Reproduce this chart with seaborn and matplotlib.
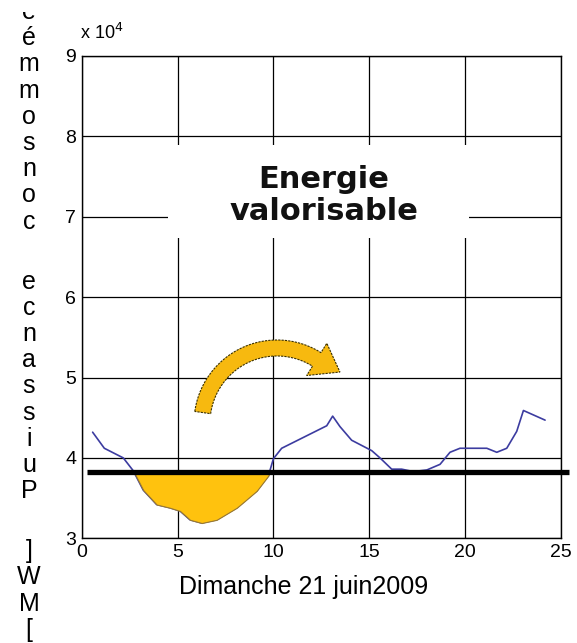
import matplotlib
matplotlib.use("Agg")
import matplotlib.pyplot as plt
import seaborn as sns
import pandas as pd
import numpy as np
from matplotlib.patches import Rectangle, Polygon

# ---- data ----
hours = [0.57, 1.18, 2.17, 2.69, 3.21, 3.91, 4.60, 5.13, 5.65, 6.26, 7.04, 8.09,
         9.13, 9.74, 10.0, 10.43, 12.78, 13.09, 13.47, 14.08, 15.13, 15.56, 16.17,
         16.69, 17.30, 18.00, 18.69, 19.21, 19.73, 21.13, 21.65, 22.17, 22.69,
         23.04, 24.17]
power_mw = [43200, 41200, 40000, 38400, 36000, 34200, 33800, 33400, 32300, 31900,
            32300, 33800, 35900, 37800, 39900, 41200, 44000, 45200, 43900, 42200,
            40900, 40000, 38600, 38600, 38300, 38500, 39200, 40700, 41200, 41200,
            40700, 41200, 43300, 45900, 44700]
threshold_mw = 38200
threshold_span = [0.3, 25.4]
x_ticks = [0, 5, 10, 15, 20, 25]
y_ticks = [30000, 40000, 50000, 60000, 70000, 80000, 90000]
y_tick_labels = ["3", "4", "5", "6", "7", "8", "9"]
x_label = "Dimanche 21 juin2009"
y_label = "[MW] Puissance consommée"
annotation = "Energie\nvalorisable"

df = pd.DataFrame({"heure": hours, "puissance": power_mw})

sns.set_style("white")
plt.rcParams["font.family"] = ["Liberation Sans", "DejaVu Sans"]
plt.rcParams["text.color"] = "black"
plt.rcParams["xtick.color"] = "black"
plt.rcParams["ytick.color"] = "black"

W, H = 577, 643
fig = plt.figure(figsize=(W / 100, H / 100), dpi=100)
ax_l, ax_r, ax_b, ax_t = 81.7, 561.0, 538.3, 56.0
ax = fig.add_axes([ax_l / W, 1 - ax_b / H, (ax_r - ax_l) / W, (ax_b - ax_t) / H])

ax.set_xlim(0, 25)
ax.set_ylim(30000, 90000)
ax.set_xticks(x_ticks)
ax.set_yticks(y_ticks)
ax.set_yticklabels(y_tick_labels)
ax.grid(True, color="black", linewidth=0.9, zorder=0)
ax.set_axisbelow(True)
for s in ax.spines.values():
    s.set_color("black")
    s.set_linewidth(1.0)
ax.tick_params(axis="both", labelsize=14, colors="black", length=3, direction="in", pad=4)

sns.lineplot(data=df, x="heure", y="puissance", ax=ax, color="#3C3CA0",
             linewidth=1.2, zorder=3, legend=False)

# fill of the deficit region (drawn over the line, as in the reference)
x = np.array(hours)
y = np.array(power_mw)
ax.fill_between(x, y, threshold_mw, where=y < threshold_mw, interpolate=True,
                facecolor="#FFC20E", edgecolor="#9a7a30", linewidth=0.8, zorder=3.5)

ax.plot(threshold_span, [threshold_mw, threshold_mw], color="black", linewidth=3.8,
        solid_capstyle="butt", clip_on=False, zorder=4)

ax.set_xlabel("")
ax.set_ylabel("")

# white box behind annotation
ax.add_patch(Rectangle((4.5, 67400), 15.7, 11500, facecolor="white",
                       edgecolor="none", zorder=1.5))
ax.text(12.64, 72600, annotation, ha="center", va="center", fontsize=22,
        fontweight="bold", family="DejaVu Sans", linespacing=1.12, zorder=5,
        color="#111111")

# curved arrow drawn as a polygon in pixel space, converted to data coords
cx, cy, r0, hw = 277.0, 423.0, 75.0, 8.0
a_tail, a_head = np.radians(172), np.radians(58)
angs = np.linspace(a_tail, a_head, 60)
outer = [(cx + (r0 + hw) * np.cos(a), cy - (r0 + hw) * np.sin(a)) for a in angs]
inner = [(cx + (r0 - hw) * np.cos(a), cy - (r0 - hw) * np.sin(a)) for a in angs[::-1]]
head_out = (cx + (r0 + 19) * np.cos(a_head), cy - (r0 + 19) * np.sin(a_head))
head_in = (cx + (r0 - 19) * np.cos(a_head), cy - (r0 - 19) * np.sin(a_head))
tip = (cx + 81 * np.cos(np.radians(39)), cy - 81 * np.sin(np.radians(39)))
pts_px = outer + [head_out, tip, head_in] + inner
pts_disp = np.array([(px, H - py) for px, py in pts_px])
pts_data = ax.transData.inverted().transform(pts_disp)
ax.add_patch(Polygon(pts_data, closed=True, facecolor="#F7B90F", edgecolor="#3a3000",
                     linewidth=0.8, linestyle=(0, (2, 1)), zorder=6))

# offset text
fig.text(80 / W, 1 - 33 / H, "x 10$^{4}$", fontsize=13, ha="left", va="center")

# x label
fig.text(304 / W, 1 - 587 / H, x_label, fontsize=18, ha="center", va="center")

# y label: reversed, stacked characters
chars = list(y_label[::-1])
ys = []
cur = 12.0
for i, ch in enumerate(chars):
    if i > 0:
        prev = chars[i - 1]
        cur += 30.0 if (ch == " " or prev == " ") else 26.2
    ys.append(cur)
for ch, yy in zip(chars, ys):
    fig.text(29 / W, 1 - yy / H, ch, fontsize=18, ha="center", va="center")
# top of the figure clips the first character
fig.patches.append(Rectangle((0, 1 - 12 / H), 60 / W, 12 / H, transform=fig.transFigure,
                             facecolor="white", edgecolor="none", zorder=10))

fig.savefig("out.png", dpi=100)
